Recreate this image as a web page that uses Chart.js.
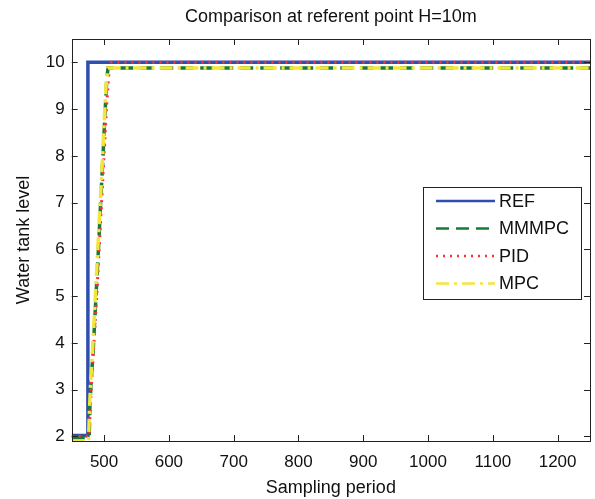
<!DOCTYPE html>
<html>
<head>
<meta charset="utf-8">
<script src="https://cdn.jsdelivr.net/npm/chart.js@4.4.1/dist/chart.umd.min.js"></script>
<style>
  html, body { margin: 0; padding: 0; background: #fff; }
</style>
</head>
<body>
<canvas id="level-canvas" width="595" height="499"></canvas>
<script>
const FONT = '"Liberation Sans", Arial, sans-serif';

// tick labels
const xTicks = [500, 600, 700, 800, 900, 1000, 1100, 1200];
const yTicks = [2, 3, 4, 5, 6, 7, 8, 9, 10];

// series (sampling period / water tank level)
const refX = [450, 475, 475, 1250];
const refY = [2.02, 2.02, 10, 10];

const mmmpcX = [450, 477, 478, 480, 483, 486, 489, 492, 495, 498, 501, 504, 506, 1250];
const mmmpcY = [1.97, 1.97, 2.6, 3.2, 3.8, 4.6, 5.4, 6.2, 7.1, 7.9, 8.8, 9.6, 9.88, 9.88];

const pidX = [450, 477, 478, 480, 483, 486, 489, 492, 495, 498, 501, 504, 507, 510, 1250];
const pidY = [2.0, 2.0, 2.4, 3.0, 3.7, 4.4, 5.1, 5.9, 6.7, 7.5, 8.3, 9.1, 9.7, 10.0, 10.0];

const mpcX = [450, 476, 477, 479, 482, 485, 488, 491, 494, 497, 500, 503, 506, 1250];
const mpcY = [1.9, 1.9, 2.4, 3.1, 3.8, 4.6, 5.4, 6.2, 7.0, 7.8, 8.7, 9.5, 9.88, 9.88];

const toPoints = (xs, ys) => xs.map((x, i) => ({ x: x, y: ys[i] }));

// MATLAB-like box with inward ticks and a title centred on the axes
const boxPlugin = {
  id: 'box',
  afterDraw(chart) {
    const { ctx, chartArea: a, scales } = chart;
    ctx.save();
    ctx.strokeStyle = '#222';
    ctx.lineWidth = 1;
    ctx.beginPath();
    xTicks.forEach((v) => {
      const px = Math.round(scales.x.getPixelForValue(v)) + 0.5;
      ctx.moveTo(px, a.bottom); ctx.lineTo(px, a.bottom - 6);
      ctx.moveTo(px, a.top); ctx.lineTo(px, a.top + 6);
    });
    yTicks.forEach((v) => {
      const py = Math.round(scales.y.getPixelForValue(v)) + 0.5;
      ctx.moveTo(a.left, py); ctx.lineTo(a.left + 6, py);
      ctx.moveTo(a.right, py); ctx.lineTo(a.right - 6, py);
    });
    ctx.stroke();
    ctx.strokeRect(Math.round(a.left) + 0.5, Math.round(a.top) + 0.5,
      Math.round(a.right - a.left), Math.round(a.bottom - a.top));

    ctx.fillStyle = '#111';
    ctx.font = '18px ' + FONT;
    ctx.textAlign = 'center';
    ctx.textBaseline = 'middle';
    ctx.fillText('Comparison at referent point H=10m', (a.left + a.right) / 2, 17);
    ctx.restore();
  }
};

// boxed legend inside the axes, right side
const legendBoxPlugin = {
  id: 'legendBox',
  afterDraw(chart) {
    const { ctx } = chart;
    const x0 = 423, y0 = 187, w = 158, h = 112;
    ctx.save();
    ctx.fillStyle = '#fff';
    ctx.fillRect(x0, y0, w, h);
    ctx.strokeStyle = '#222';
    ctx.lineWidth = 1;
    ctx.strokeRect(x0 + 0.5, y0 + 0.5, w, h);
    chart.data.datasets.forEach((ds, i) => {
      const y = y0 + 14 + i * 27.5;
      ctx.strokeStyle = ds.borderColor;
      ctx.lineWidth = 2.5;
      ctx.setLineDash(ds.borderDash || []);
      ctx.beginPath();
      ctx.moveTo(436, y);
      ctx.lineTo(495, y);
      ctx.stroke();
      ctx.setLineDash([]);
      ctx.fillStyle = '#111';
      ctx.font = '18px ' + FONT;
      ctx.textAlign = 'left';
      ctx.textBaseline = 'middle';
      ctx.fillText(ds.label, 499, y + 1);
    });
    ctx.restore();
  }
};

const ctx = document.getElementById('level-canvas').getContext('2d');

const levelChart = new Chart(ctx, {
  type: 'line',
  data: {
    datasets: [{
      label: 'REF',
      data: toPoints(refX, refY),
      borderColor: '#2f4fae',
      borderWidth: 3.5,
      order: 4
    }, {
      label: 'MMMPC',
      data: toPoints(mmmpcX, mmmpcY),
      borderColor: '#187a3a',
      borderWidth: 3.5,
      borderDash: [13, 7],
      order: 3
    }, {
      label: 'PID',
      data: toPoints(pidX, pidY),
      borderColor: '#ff3030',
      borderWidth: 3,
      borderDash: [2, 5],
      order: 2
    }, {
      label: 'MPC',
      data: toPoints(mpcX, mpcY),
      borderColor: '#f2e63a',
      borderWidth: 3.5,
      borderDash: [13, 5, 3, 5],
      order: 1
    }]
  },
  options: {
    responsive: false,
    devicePixelRatio: 1,
    animation: false,
    layout: {
      padding: { left: 0, top: 39, right: 5, bottom: 0 }
    },
    elements: {
      point: { radius: 0 },
      line: { tension: 0, fill: false }
    },
    plugins: {
      legend: { display: false },
      tooltip: { enabled: false },
      title: { display: false }
    },
    scales: {
      x: {
        type: 'linear',
        min: 450,
        max: 1250,
        afterBuildTicks: (scale) => {
          scale.ticks = xTicks.map((v) => ({ value: v }));
        },
        afterFit: (scale) => { scale.height = 58; },
        grid: { display: false, drawTicks: false },
        border: { display: false },
        ticks: {
          color: '#111',
          padding: 11,
          maxRotation: 0,
          callback: (v) => String(v),
          font: { family: FONT, size: 17 }
        },
        title: {
          display: true,
          text: 'Sampling period',
          color: '#111',
          padding: { top: 0, bottom: 0 },
          font: { family: FONT, size: 18 }
        }
      },
      y: {
        type: 'linear',
        min: 1.9,
        max: 10.5,
        afterBuildTicks: (scale) => {
          scale.ticks = yTicks.map((v) => ({ value: v }));
        },
        afterFit: (scale) => { scale.width = 71.7; },
        grid: { display: false, drawTicks: false },
        border: { display: false },
        ticks: {
          color: '#111',
          padding: 7,
          callback: (v) => String(v),
          font: { family: FONT, size: 17 }
        },
        title: {
          display: true,
          text: 'Water tank level',
          color: '#111',
          padding: { top: 13, bottom: 0 },
          font: { family: FONT, size: 18 }
        }
      }
    }
  },
  plugins: [boxPlugin, legendBoxPlugin]
});
</script>
</body>
</html>
